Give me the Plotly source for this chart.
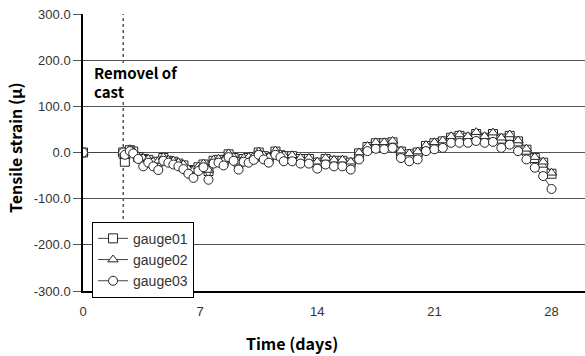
import plotly.graph_objects as go

days = [0, 2.4, 2.5, 2.8, 3.0, 3.3, 3.6, 3.9, 4.2, 4.5, 4.8, 5.1, 5.4, 5.7, 6.0, 6.3, 6.6, 6.9,
        7.2, 7.5, 7.8, 8.1, 8.4, 8.7, 9.0, 9.3, 9.6, 9.9, 10.2, 10.5, 10.8, 11.1, 11.5, 11.8,
        12.0, 12.5, 13.0, 13.5, 14.0, 14.5, 15.0, 15.5, 16.0, 16.5, 17.0, 17.5, 18.0, 18.5,
        19.0, 19.5, 20.0, 20.5, 21.0, 21.5, 22.0, 22.5, 23.0, 23.5, 24.0, 24.5, 25.0, 25.5,
        26.0, 26.5, 27.0, 27.5, 28.0]

gauge01 = [0, 0, -20, 5, 2, -10, -14, -16, -22, -20, -12, -18, -20, -24, -28, -38, -40, -32,
           -26, -40, -18, -16, -20, -4, -12, -22, -14, -12, -10, 0, -8, -12, 2, -6,
           -8, -8, -14, -14, -22, -14, -18, -18, -22, -2, 12, 20, 20, 22,
           2, -4, 0, 14, 20, 24, 32, 36, 32, 40, 32, 40, 30, 36,
           24, 6, -12, -22, -46]
gauge02 = [0, 0, -8, 7, 3, -8, -12, -14, -20, -18, -10, -16, -18, -22, -26, -36, -38, -30,
           -24, -38, -16, -14, -18, -2, -10, -20, -12, -10, -8, 2, -6, -10, 4, -4,
           -6, -6, -12, -12, -20, -12, -16, -16, -20, 0, 14, 22, 22, 25,
           4, -2, 2, 16, 22, 26, 35, 39, 35, 44, 35, 43, 32, 39,
           26, 8, -10, -20, -44]
gauge03 = [0, 0, -5, 3, -2, -14, -30, -22, -30, -38, -18, -22, -26, -30, -36, -46, -55, -40,
           -32, -59, -24, -22, -28, -10, -18, -37, -20, -22, -16, -5, -15, -22, -5, -10,
           -19, -19, -24, -24, -35, -26, -30, -30, -37, -15, 3, 8, 7, 10,
           -12, -19, -15, 3, 7, 10, 21, 21, 21, 25, 21, 23, 10, 17,
           3, -15, -33, -51, -79]

series = [("gauge01", gauge01, "square"), ("gauge02", gauge02, "triangle-up"),
          ("gauge03", gauge03, "circle")]

y_ticks = [300, 200, 100, 0, -100, -200, -300]
x_ticks = [0, 7, 14, 21, 28]
removal_day = 2.4
note_lines = ["Removel of", "cast"]

fig = go.Figure()
for name, vals, sym in series:
    fig.add_trace(go.Scatter(
        x=days, y=vals, name=name, mode="lines+markers",
        line=dict(color="#444444", width=1),
        marker=dict(symbol=sym, size=9, color="white",
                    line=dict(color="#222222", width=1)),
    ))

fig.add_shape(type="line", xref="x", yref="paper", x0=removal_day, x1=removal_day, y0=0, y1=1,
              line=dict(color="black", width=1, dash="3px,3px"), layer="below")

# white block behind the note (hides the dashed line like the reference)
fig.add_shape(type="rect", xref="x", yref="y", x0=0.55, x1=6.3, y0=112, y1=190,
              fillcolor="white", line=dict(width=0), layer="below")
for i, txt in enumerate(note_lines):
    fig.add_annotation(x=0.6, y=174 - i * 42, xref="x", yref="y", text=f"<b>{txt}</b>",
                       showarrow=False, xanchor="left", yanchor="middle", align="left",
                       borderpad=0,
                       font=dict(family="Noto Sans CJK KR", size=15, color="black"))

fig.add_annotation(x=(292 - 83) / 502, y=-(343 - 291) / 277, xref="paper", yref="paper",
                   text="<b>Time (days)</b>", showarrow=False, xanchor="center", yanchor="middle",
                   font=dict(family="Noto Sans CJK KR", size=16, color="black"))
fig.add_annotation(x=-(83 - 15) / 502, y=(291 - 148) / 277, xref="paper", yref="paper",
                   text="<b>Tensile strain (μ)</b>", showarrow=False, textangle=-90,
                   xanchor="center", yanchor="middle",
                   font=dict(family="Noto Sans CJK KR", size=16, color="black"))

fig.update_layout(
    width=585, height=356,
    margin=dict(l=83, r=0, t=14, b=65),
    paper_bgcolor="white", plot_bgcolor="white",
    font=dict(family="Liberation Sans", size=13, color="#333333"),
    showlegend=True,
    legend=dict(x=0.018, y=0.25, xanchor="left", yanchor="top",
                bgcolor="white", bordercolor="black", borderwidth=1,
                font=dict(family="Liberation Sans", size=14, color="#333333"),
                tracegroupgap=0, itemwidth=30),
    xaxis=dict(range=[0, 30], tickvals=x_ticks, ticktext=[str(t) for t in x_ticks],
               showgrid=False, zeroline=False, showline=True, linecolor="black", linewidth=1.5,
               ticks="", ticklabelstandoff=8),
    yaxis=dict(range=[-300, 300], tickvals=y_ticks, ticktext=[f"{t:.1f}" for t in y_ticks],
               showgrid=True, gridcolor="#555555", gridwidth=1.2, zeroline=False,
               showline=True, linecolor="black", linewidth=1.5,
               ticks="outside", ticklen=8, tickcolor="#555555"),
)

fig.write_html("out.html")
